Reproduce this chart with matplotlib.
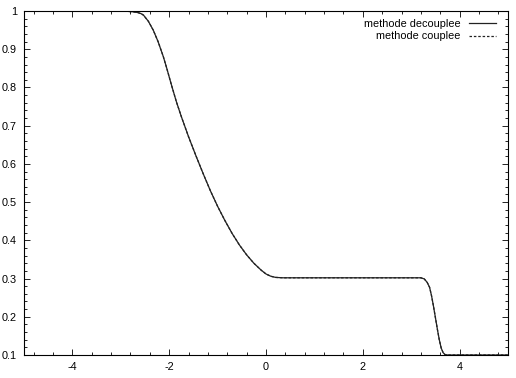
import matplotlib
matplotlib.use("Agg")
import matplotlib.pyplot as plt
from matplotlib.ticker import MultipleLocator, FuncFormatter

plt.rcParams['font.family'] = ['Liberation Sans', 'DejaVu Sans']
plt.rcParams['axes.unicode_minus'] = False

x_decouplee = [-5.0, -2.95, -2.85, -2.75, -2.65, -2.58, -2.53, -2.43, -2.33, -2.23,
               -2.12, -2.05, -1.95, -1.85, -1.75, -1.60, -1.45, -1.30, -1.15, -1.00,
               -0.85, -0.70, -0.55, -0.40, -0.25, -0.10, 0.00, 0.10, 0.20, 0.35,
               3.20, 3.27, 3.33, 3.38, 3.42, 3.46, 3.50, 3.54, 3.58, 3.62,
               3.66, 3.70, 3.76, 5.0]
y_decouplee = [1.0, 1.0, 0.999, 0.998, 0.996, 0.993, 0.989, 0.973, 0.950, 0.920,
               0.880, 0.850, 0.805, 0.762, 0.724, 0.671, 0.622, 0.575, 0.530, 0.489,
               0.452, 0.418, 0.388, 0.362, 0.340, 0.322, 0.312, 0.306, 0.303, 0.302,
               0.302, 0.299, 0.290, 0.277, 0.255, 0.228, 0.198, 0.168, 0.140, 0.118,
               0.106, 0.101, 0.100, 0.100]
x_couplee = list(x_decouplee)
y_couplee = list(y_decouplee)

labels = ["methode decouplee", "methode couplee"]

fig = plt.figure(figsize=(5.16, 3.78), dpi=100)
ax = fig.add_axes([24/516, 1-355/378, (508-24)/516, (355-11)/378])

ax.plot(x_decouplee, y_decouplee, color='#222222', lw=0.9, label=labels[0])
ax.plot(x_couplee, y_couplee, color='#222222', lw=0.9, linestyle=(0, (2, 1.5)), label=labels[1])

ax.set_xlim(-5, 5)
ax.set_ylim(0.1, 1.0)
ax.xaxis.set_major_locator(MultipleLocator(2))
ax.xaxis.set_minor_locator(MultipleLocator(0.4))
ax.yaxis.set_major_locator(MultipleLocator(0.1))
ax.yaxis.set_minor_locator(MultipleLocator(0.02))
ax.yaxis.set_major_formatter(FuncFormatter(lambda v, p: "%g" % round(v, 3)))
ax.xaxis.set_major_formatter(FuncFormatter(lambda v, p: "%g" % round(v, 3)))

ax.tick_params(which='both', direction='in', top=True, right=True, labelsize=7.8,
               colors='black', width=0.6)
ax.tick_params(which='major', length=4.5, pad=5)
ax.tick_params(which='minor', length=2.2)
for s in ax.spines.values():
    s.set_linewidth(0.8)

leg = ax.legend(loc='upper right', frameon=False, markerfirst=False, fontsize=7.8,
                handlelength=2.5, handletextpad=0.8, labelspacing=0.2,
                borderaxespad=0.35, bbox_to_anchor=(0.992, 1.0))
for t in leg.get_texts():
    t.set_ha('right')

fig.savefig("out.png", dpi=100)
